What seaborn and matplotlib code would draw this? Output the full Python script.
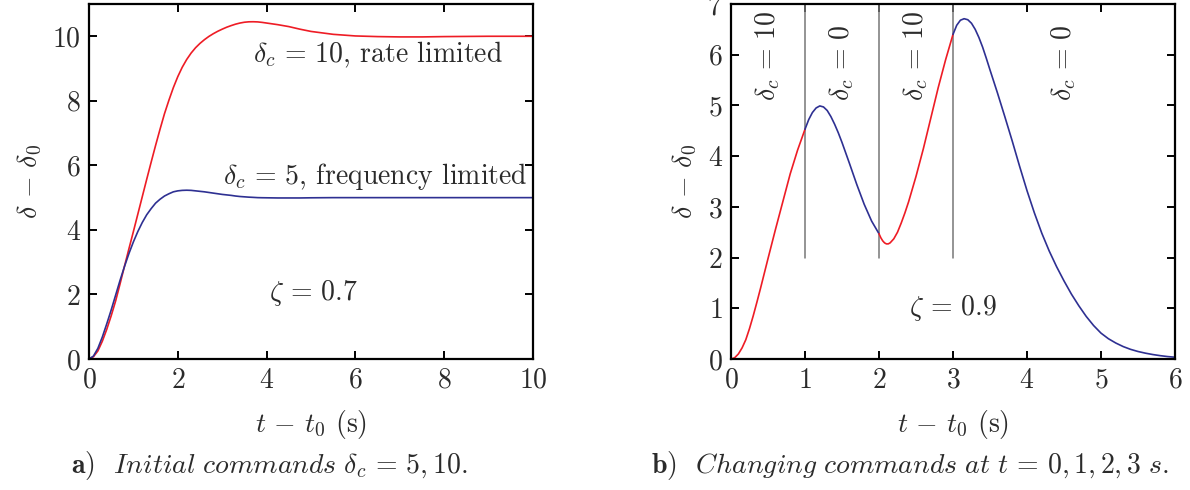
import numpy as np
import pandas as pd
import matplotlib
matplotlib.use("Agg")
import matplotlib.pyplot as plt
import seaborn as sns

# ---------------- data ----------------
# Panel a: initial commands
t_a = [0, 0.1, 0.2, 0.3, 0.4, 0.5, 0.6, 0.7, 0.8, 0.9, 1.0, 1.1, 1.2, 1.3, 1.4,
       1.5, 1.6, 1.7, 1.8, 1.9, 2.0, 2.1, 2.2, 2.3, 2.4, 2.5, 2.6, 2.7, 2.8, 2.9,
       3.0, 3.1, 3.2, 3.3, 3.4, 3.5, 3.6, 3.7, 3.8, 3.9, 4.0, 4.25, 4.5, 4.75,
       5.0, 5.5, 6.0, 6.5, 7.0, 7.5, 8.0, 9.0, 10.0]
red_a = [0, 0.07, 0.25, 0.55, 0.92, 1.34, 1.8, 2.33, 2.88, 3.42, 3.95, 4.49, 5.03,
         5.57, 6.1, 6.62, 7.12, 7.6, 8.02, 8.41, 8.75, 9.04, 9.28, 9.48, 9.645,
         9.78, 9.895, 9.995, 10.08, 10.155, 10.22, 10.28, 10.33, 10.375, 10.41,
         10.435, 10.448, 10.45, 10.445, 10.43, 10.41, 10.36, 10.3, 10.22, 10.15,
         10.06, 10.01, 9.99, 9.98, 9.98, 9.99, 10.0, 10.0]
blue_a = [0, 0.09, 0.33, 0.68, 1.09, 1.52, 1.98, 2.44, 2.87, 3.27, 3.63, 3.95,
          4.23, 4.47, 4.66, 4.83, 4.95, 5.05, 5.12, 5.18, 5.21, 5.225, 5.23, 5.225,
          5.21, 5.195, 5.18, 5.16, 5.14, 5.12, 5.10, 5.085, 5.07, 5.05, 5.035,
          5.025, 5.015, 5.008, 5.0, 4.997, 4.995, 4.99, 4.99, 4.99, 4.995, 5.0,
          5.0, 5.0, 5.0, 5.0, 5.0, 5.0, 5.0]

# Panel b: changing commands at t = 0, 1, 2, 3 s
t_b1 = [0, 0.05, 0.1, 0.15, 0.2, 0.25, 0.3, 0.35, 0.4, 0.5, 0.6, 0.7, 0.8, 0.9, 1.0]
v_b1 = [0, 0.025, 0.1, 0.22, 0.38, 0.6, 0.85, 1.12, 1.4, 1.98, 2.55, 3.1, 3.65, 4.12, 4.53]
t_b2 = [1.0, 1.05, 1.1, 1.15, 1.2, 1.25, 1.3, 1.35, 1.4, 1.45, 1.5, 1.6, 1.7, 1.8, 1.9, 2.0]
v_b2 = [4.53, 4.72, 4.86, 4.95, 4.99, 4.97, 4.9, 4.78, 4.63, 4.46, 4.27, 3.86, 3.44,
        3.05, 2.72, 2.47]
t_b3 = [2.0, 2.025, 2.05, 2.075, 2.1, 2.125, 2.15, 2.2, 2.25, 2.3, 2.35, 2.4, 2.5,
        2.6, 2.7, 2.8, 2.9, 3.0]
v_b3 = [2.47, 2.39, 2.33, 2.29, 2.27, 2.27, 2.29, 2.37, 2.5, 2.68, 2.88, 3.1, 3.6,
        4.15, 4.75, 5.35, 5.9, 6.4]
t_b4 = [3.0, 3.05, 3.1, 3.15, 3.2, 3.25, 3.3, 3.35, 3.4, 3.45, 3.5, 3.6, 3.7, 3.8,
        3.9, 4.0, 4.1, 4.2, 4.3, 4.4, 4.5, 4.6, 4.7, 4.8, 4.9, 5.0, 5.1, 5.2, 5.3,
        5.4, 5.5, 5.6, 5.7, 5.8, 5.9, 6.0]
v_b4 = [6.4, 6.58, 6.68, 6.71, 6.69, 6.62, 6.5, 6.34, 6.15, 5.93, 5.7, 5.25, 4.78,
        4.3, 3.8, 3.32, 2.88, 2.48, 2.13, 1.82, 1.54, 1.28, 1.05, 0.84, 0.66, 0.51,
        0.4, 0.315, 0.245, 0.19, 0.148, 0.115, 0.088, 0.066, 0.048, 0.035]

switch_times = [1, 2, 3]
cmd_labels = [r"$\delta_c\,=\,10$", r"$\delta_c\,=\,0$", r"$\delta_c\,=\,10$", r"$\delta_c\,=\,0$"]
cmd_x = [0.5, 1.5, 2.5, 4.5]

xticks_a = [0, 2, 4, 6, 8, 10]
yticks_a = [0, 2, 4, 6, 8, 10]
xticks_b = [0, 1, 2, 3, 4, 5, 6]
yticks_b = [0, 1, 2, 3, 4, 5, 6, 7]

RED = "#EE1C25"
BLUE = "#2E3092"
TXT = "#2b2b2b"
FS = 20

# ---------------- style ----------------
sns.set_theme(style="ticks")
plt.rcParams.update({
    "font.family": "serif",
    "font.serif": ["cmr10"],
    "mathtext.fontset": "cm",
    "axes.unicode_minus": False,
    "axes.formatter.use_mathtext": True,
    "font.size": FS,
    "text.color": TXT,
    "axes.labelcolor": TXT,
    "xtick.color": "black",
    "ytick.color": "black",
    "xtick.labelcolor": TXT,
    "ytick.labelcolor": TXT,
    "axes.edgecolor": "black",
    "axes.linewidth": 1.6,
})

fig = plt.figure(figsize=(11.9, 4.9), dpi=100)
ax1 = fig.add_axes([89 / 1190, 1 - 359 / 490, (533 - 89) / 1190, (359 - 4) / 490])
ax2 = fig.add_axes([731 / 1190, 1 - 359 / 490, (1175 - 731) / 1190, (359 - 4) / 490])

def style_axis(ax, xt, yt, xlim, ylim):
    ax.set_xlim(*xlim)
    ax.set_ylim(*ylim)
    ax.set_xticks(xt)
    ax.set_yticks(yt)
    ax.tick_params(direction="in", length=6, width=1.4, top=True, right=True,
                   labelsize=FS, pad=6)
    ax.set_xlabel(r"$t\,-\,t_0$ (s)", fontsize=FS, labelpad=10)
    ax.set_ylabel(r"$\delta\,-\,\delta_0$", fontsize=FS, labelpad=6)
    for s in ax.spines.values():
        s.set_visible(True)
        s.set_linewidth(1.6)

# ---------------- panel a ----------------
df_a = pd.DataFrame({"t": t_a * 2,
                     "v": red_a + blue_a,
                     "case": ["rate"] * len(t_a) + ["freq"] * len(t_a)})
sns.lineplot(data=df_a, x="t", y="v", hue="case", palette={"rate": RED, "freq": BLUE},
             estimator=None, sort=False, linewidth=1.2, legend=False, ax=ax1)
style_axis(ax1, xticks_a, yticks_a, (0, 10), (0, 11))
ax1.text(6.5, 9.42, r"$\delta_c\,=\,10$, rate limited", ha="center", va="center", fontsize=FS)
ax1.text(6.45, 5.64, r"$\delta_c\,=\,5$, frequency limited", ha="center", va="center", fontsize=FS)
ax1.text(5.05, 2.05, r"$\zeta\,=\,0.7$", ha="center", va="center", fontsize=FS)

# ---------------- panel b ----------------
segments = [(t_b1, v_b1, RED), (t_b2, v_b2, BLUE), (t_b3, v_b3, RED), (t_b4, v_b4, BLUE)]
for ts, vs, c in segments:
    sns.lineplot(x=ts, y=vs, color=c, estimator=None, sort=False, linewidth=1.2, ax=ax2)
for st in switch_times:
    ax2.plot([st, st], [2, 7], color="#777777", linewidth=1.1, zorder=1)
style_axis(ax2, xticks_b, yticks_b, (0, 6), (0, 7))
for xl, lab in zip(cmd_x, cmd_labels):
    ax2.text(xl, 5.08, lab, rotation=90, ha="left", va="center",
             rotation_mode="anchor", fontsize=FS)
ax2.text(3.0, 1.0, r"$\zeta\,=\,0.9$", ha="center", va="center", fontsize=FS)

# ---------------- captions ----------------
fig.text(269 / 1190, 1 - 465 / 490,
         r"$\mathbf{a)}$  $\mathit{Initial\ commands}\ \delta_c\,=\,\mathit{5,10.}$",
         ha="center", va="center", fontsize=FS)
fig.text(910 / 1190, 1 - 465 / 490,
         r"$\mathbf{b)}$  $\mathit{Changing\ commands\ at}\ t\,=\,\mathit{0,1,2,3\ s.}$",
         ha="center", va="center", fontsize=FS)

fig.savefig("out.png", dpi=100)
